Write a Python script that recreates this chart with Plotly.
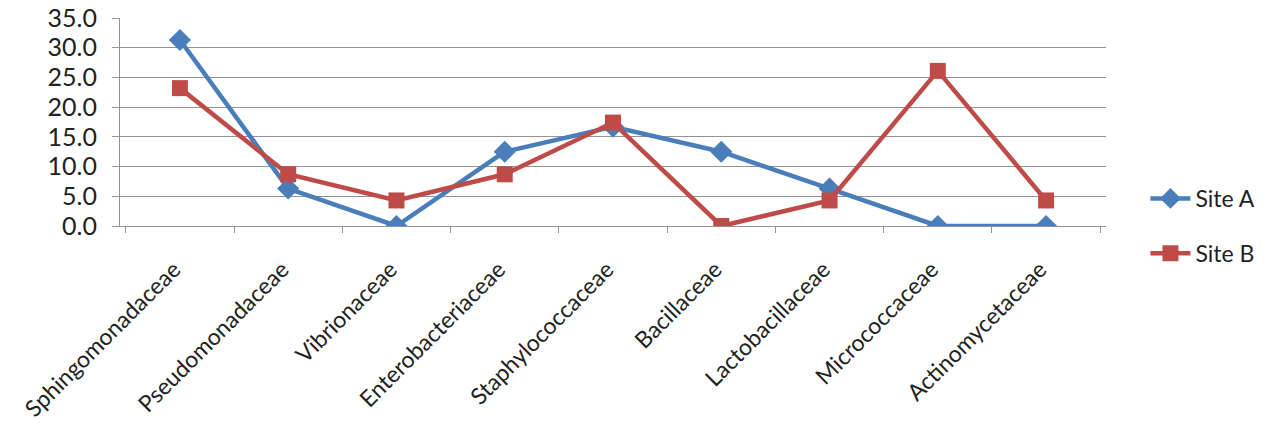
import plotly.graph_objects as go

families = ["Sphingomonadaceae", "Pseudomonadaceae", "Vibrionaceae", "Enterobacteriaceae",
            "Staphylococcaceae", "Bacillaceae", "Lactobacillaceae", "Micrococcaceae",
            "Actinomycetaceae"]
site_a = [31.3, 6.3, 0.0, 12.5, 16.7, 12.5, 6.3, 0.0, 0.0]
site_b = [23.2, 8.7, 4.3, 8.7, 17.4, 0.0, 4.3, 26.1, 4.3]
y_ticks = [0, 5, 10, 15, 20, 25, 30, 35]

FONT = "Lato, 'Open Sans', sans-serif"
BLUE = "#4A7EBB"
RED = "#BE4B48"
GRID = "#939393"
TEXT = "#222222"

fig = go.Figure()
fig.add_trace(go.Scatter(
    x=families, y=site_a, name="Site A", mode="lines+markers",
    line=dict(color=BLUE, width=4.5),
    marker=dict(symbol="diamond", size=17, color=BLUE),
    legendgroup="a",
))
fig.add_trace(go.Scatter(
    x=families, y=site_b, name="Site B", mode="lines+markers",
    line=dict(color=RED, width=4.5),
    marker=dict(symbol="square", size=16, color=RED),
    legendgroup="b",
))

fig.update_layout(
    width=1276, height=428,
    margin=dict(l=120, r=170, t=18, b=202, autoexpand=False),
    paper_bgcolor="white", plot_bgcolor="white",
    font=dict(family=FONT, size=22, color=TEXT),
    showlegend=True,
    legend=dict(x=1.04, y=0.0, yanchor="middle", xanchor="left",
                font=dict(size=23, color=TEXT),
                tracegroupgap=22, itemwidth=40),
)
fig.update_xaxes(
    type="category", tickangle=-45, tickson="boundaries",
    ticks="outside", ticklen=6, tickcolor=GRID,
    showline=True, linecolor=GRID, linewidth=1,
    showgrid=False, automargin=False,
    tickfont=dict(size=23, color=TEXT),
    ticklabelstandoff=20, ticklabelshift=-6,
)
fig.update_yaxes(
    range=[0, 35], tickvals=y_ticks,
    ticktext=[f"{v:.1f}" for v in y_ticks],
    ticks="outside", ticklen=7, tickcolor=GRID,
    showline=True, linecolor=GRID, linewidth=1,
    showgrid=True, gridcolor=GRID, gridwidth=1,
    zeroline=False, automargin=False,
    tickfont=dict(size=25, color=TEXT),
    ticklabelstandoff=10,
)

fig.write_html("out.html")
